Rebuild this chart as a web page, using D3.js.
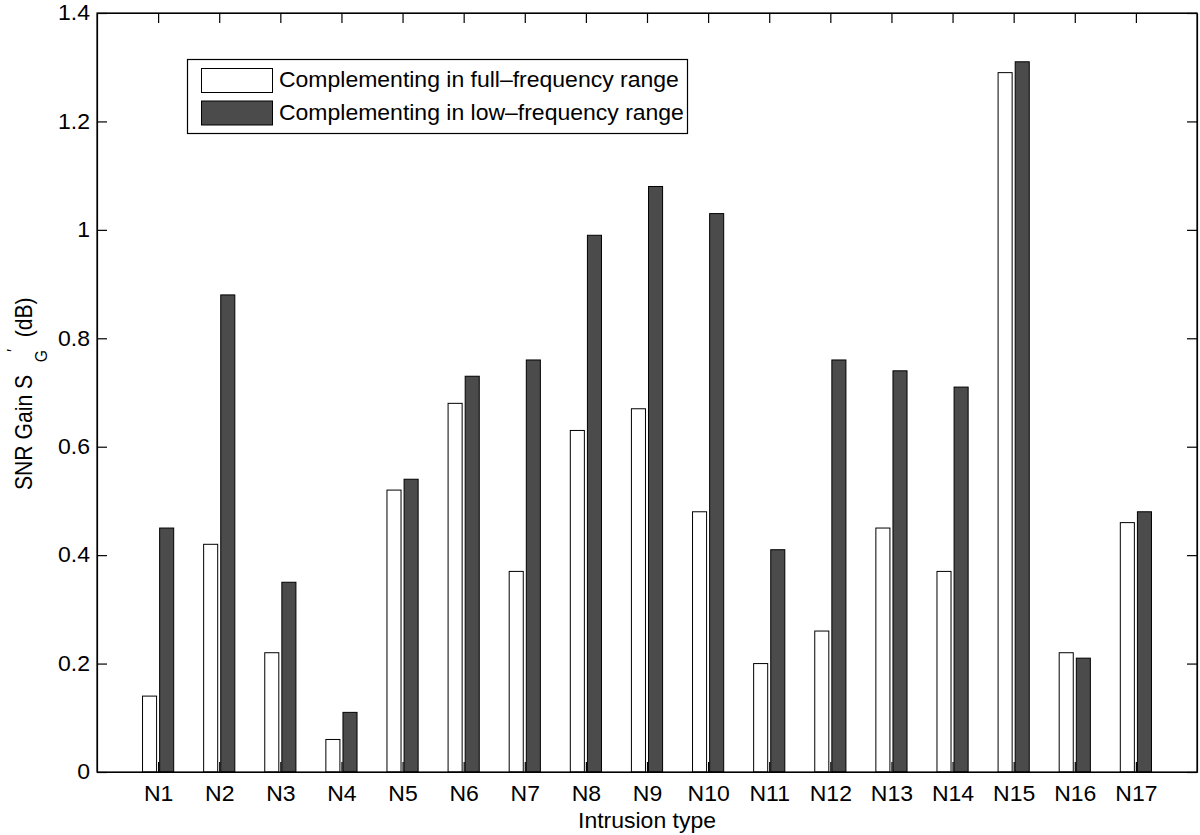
<!DOCTYPE html>
<html>
<head>
<meta charset="utf-8">
<script src="https://cdn.jsdelivr.net/npm/d3@7"></script>
<style>
  body { margin: 0; background: #fff; }
  svg text { font-family: "Liberation Sans", Arial, Helvetica, sans-serif; fill: #000; }
</style>
</head>
<body>
<svg id="chart" width="1200" height="835"></svg>
<script>
// data
const categories = ['N1','N2','N3','N4','N5','N6','N7','N8','N9','N10','N11','N12','N13','N14','N15','N16','N17'];
const fullRange = [0.14,0.42,0.22,0.06,0.52,0.68,0.37,0.63,0.67,0.48,0.20,0.26,0.45,0.37,1.29,0.22,0.46];
const lowRange  = [0.45,0.88,0.35,0.11,0.54,0.73,0.76,0.99,1.08,1.03,0.41,0.76,0.74,0.71,1.31,0.21,0.48];
const yTicks = [0,0.2,0.4,0.6,0.8,1,1.2,1.4];
const seriesNames = ['Complementing in full\u2013frequency range', 'Complementing in low\u2013frequency range'];

const svg = d3.select('svg#chart');
const margin = {top: 13, right: 3, bottom: 63, left: 97};
const WIDTH = 1200, HEIGHT = 835;
const x0 = margin.left, x1 = WIDTH - margin.right;
const y0 = HEIGHT - margin.bottom, y1 = margin.top;

const FILL = ['#ffffff', '#4b4b4b'];
const BAR_W = 0.23;      // in category units
const OFFSET = 0.14;
const FS = 23;           // font size
const SQ = 0.92;         // the picture's text is squashed vertically

const xScale = d3.scaleLinear().domain([0, categories.length + 1]).range([x0, x1]);
const yScale = d3.scaleLinear().domain([0, 1.4]).range([y0, y1]);

// bars
const series = [fullRange, lowRange];
series.forEach((vals, s) => {
  svg.append('g').attr('class', 'bars s' + s)
    .selectAll('rect').data(vals).enter().append('rect')
      .attr('x', (d, i) => xScale(i + 1 + (s === 0 ? -OFFSET : OFFSET) - BAR_W / 2))
      .attr('y', d => yScale(d))
      .attr('width', xScale(BAR_W) - xScale(0))
      .attr('height', d => y0 - yScale(d))
      .attr('fill', FILL[s])
      .attr('stroke', '#000')
      .attr('stroke-width', 1);
});

// axes (MATLAB style: ticks inside, box all round)
const tickIdx = categories.map((c, i) => i + 1);
const xAxis = d3.axisBottom(xScale).tickValues(tickIdx)
  .tickFormat((d) => categories[d - 1]).tickSizeInner(-10).tickSizeOuter(0).tickPadding(15);
const xAxisTop = d3.axisTop(xScale).tickValues(tickIdx)
  .tickFormat('').tickSizeInner(-10).tickSizeOuter(0);
const yAxis = d3.axisLeft(yScale).tickValues(yTicks)
  .tickFormat(d3.format('~g')).tickSizeInner(-10).tickSizeOuter(0).tickPadding(7);
const yAxisRight = d3.axisRight(yScale).tickValues(yTicks)
  .tickFormat('').tickSizeInner(-10).tickSizeOuter(0);

svg.append('g').attr('transform', `translate(0,${y0})`).call(xAxis);
svg.append('g').attr('transform', `translate(0,${y1})`).call(xAxisTop);
svg.append('g').attr('transform', `translate(${x0},0)`).call(yAxis);
svg.append('g').attr('transform', `translate(${x1},0)`).call(yAxisRight);

svg.selectAll('.tick line').attr('stroke', '#000').attr('stroke-width', 1.2);
svg.selectAll('.domain').attr('stroke', '#000').attr('stroke-width', 1.2);
svg.selectAll('.tick text')
  .attr('fill', '#000')
  .style('font-size', FS + 'px')
  .attr('transform', `scale(1,${SQ})`);

// axis box outline
svg.append('rect')
  .attr('x', x0).attr('y', y1)
  .attr('width', x1 - x0).attr('height', y0 - y1)
  .attr('fill', 'none').attr('stroke', '#000').attr('stroke-width', 1.2);

// axis labels
svg.append('text')
  .attr('transform', `translate(${(x0 + x1) / 2},828) scale(1,${SQ})`)
  .attr('text-anchor', 'middle').style('font-size', FS + 'px')
  .text('Intrusion type');

const yl = svg.append('g')
  .attr('transform', `translate(32,490) rotate(-90) scale(${SQ},1)`);
yl.append('text').style('font-size', FS + 'px').text('SNR Gain S');
yl.append('text').attr('x', 139).attr('y', 15).style('font-size', '17px').text('G');
yl.append('text').attr('x', 150).attr('y', -13).style('font-size', '17px').text('\u2032');
yl.append('text').attr('x', 166).style('font-size', FS + 'px').text('(dB)');

// legend
const legend = svg.append('g').attr('class', 'legend');
legend.append('rect')
  .attr('x', 187.5).attr('y', 59.5).attr('width', 500).attr('height', 74)
  .attr('fill', '#fff').attr('stroke', '#000').attr('stroke-width', 1.2);
seriesNames.forEach((name, s) => {
  const top = 68.5 + s * 32.5;
  legend.append('rect')
    .attr('x', 201.5).attr('y', top).attr('width', 71).attr('height', 24)
    .attr('fill', FILL[s]).attr('stroke', '#000').attr('stroke-width', 1);
  legend.append('text')
    .attr('transform', `translate(279,${top + 18.5}) scale(1,${SQ})`)
    .style('font-size', FS + 'px')
    .text(name);
});
</script>
</body>
</html>
